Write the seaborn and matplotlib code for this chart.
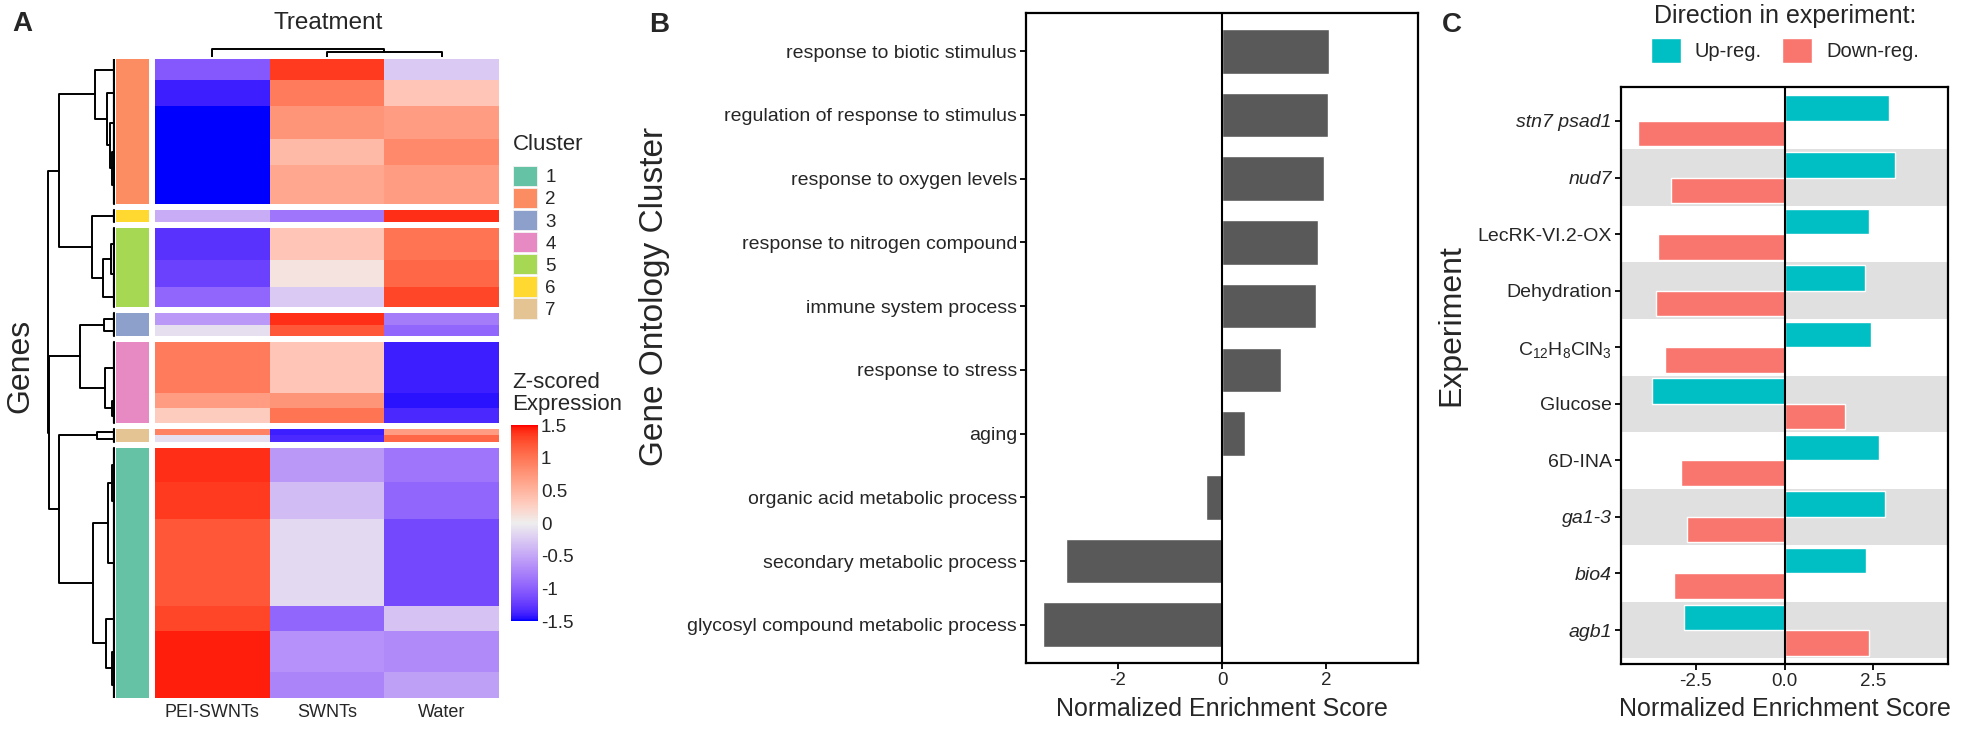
import matplotlib
matplotlib.use('Agg')
import numpy as np
import pandas as pd
import matplotlib.pyplot as plt
import seaborn as sns
from matplotlib.colors import ListedColormap
from matplotlib.patches import Patch

# ---------------- data ----------------
# panel A: heatmap bands (blocks of genes with similar z-scores), top to bottom
band_cluster = [2, 2, 2, 2, 2, 6, 5, 5, 5, 3, 3, 4, 4, 4, 7, 7, 1, 1, 1, 1, 1, 1]
band_rows = [21, 26, 33, 26, 39, 12, 32, 27, 20, 12, 11, 51, 15, 15, 6, 7, 34, 37, 87, 25, 41, 26]
pei_z = [-1.05, -1.4, -1.5, -1.5, -1.5, -0.45, -1.3, -1.2, -0.95, -0.6, -0.1,
         0.95, 0.7, 0.3, 0.9, -0.1, 1.4, 1.35, 1.2, 1.3, 1.45, 1.45]
swnt_z = [1.35, 0.95, 0.75, 0.45, 0.6, -0.85, 0.35, 0.1, -0.25, 1.4, 1.2,
          0.35, 0.75, 1.0, -1.4, -1.35, -0.6, -0.35, -0.15, -0.95, -0.65, -0.75]
water_z = [-0.25, 0.35, 0.7, 0.85, 0.7, 1.4, 1.0, 1.1, 1.3, -0.8, -0.95,
           -1.4, -1.45, -1.35, 0.7, 1.1, -0.85, -0.95, -1.15, -0.3, -0.7, -0.55]
treatments = ['PEI-SWNTs', 'SWNTs', 'Water']
cluster_colors = ['#66C2A5', '#FC8D62', '#8DA0CB', '#E78AC3', '#A6D854', '#FFD92F', '#E5C494']

# dendrograms: (left, right, merge height), leaves are band / column indices
c2 = (0, (1, (2, (3, 4, 3), 5), 8), 20)
c5 = ((6, 7, 4), 8, 12)
c3 = (9, 10, 11)
c4 = (11, (12, 13, 3), 10)
c7 = (14, 15, 18)
c1 = (((16, 17, 3), 18, 7), (19, (20, 21, 3), 9), 22)
row_tree = ((c2, (5, c5, 23), 56), ((c3, c4, 35), (c7, c1, 56), 66.5), 67)
col_tree = (0, (1, 2, 5), 8)

# panel B
go_terms = ['response to biotic stimulus', 'regulation of response to stimulus',
            'response to oxygen levels', 'response to nitrogen compound',
            'immune system process', 'response to stress', 'aging',
            'organic acid metabolic process', 'secondary metabolic process',
            'glycosyl compound metabolic process']
go_nes = [2.06, 2.03, 1.96, 1.84, 1.81, 1.13, 0.45, -0.3, -3.0, -3.44]

# panel C
experiments = ['stn7 psad1', 'nud7', 'LecRK-VI.2-OX', 'Dehydration',
               r'$\mathregular{C_{12}H_8ClN_3}$', 'Glucose', '6D-INA', 'ga1-3', 'bio4', 'agb1']
italic_names = ['stn7 psad1', 'nud7', 'ga1-3', 'bio4', 'agb1']
up_nes = [2.95, 3.12, 2.39, 2.26, 2.42, -3.74, 2.67, 2.84, 2.28, -2.84]
down_nes = [-4.13, -3.2, -3.57, -3.62, -3.37, 1.71, -2.92, -2.75, -3.12, 2.39]

# ---------------- style ----------------
sns.set_style('white')
plt.rcParams['font.family'] = ['Liberation Sans', 'DejaVu Sans']
plt.rcParams['axes.unicode_minus'] = False
plt.rcParams['mathtext.default'] = 'regular'

W, H = 1961, 737
fig = plt.figure(figsize=(W / 100, H / 100), dpi=100)


def box(x0, y0, x1, y1):
    return [x0 / W, 1 - y1 / H, (x1 - x0) / W, (y1 - y0) / H]


def ftext(x, y, s, **kw):
    return fig.text(x / W, 1 - y / H, s, **kw)


# colour ramp blue - #EEEEEE - red interpolated in LAB (like colorRamp2)
M = np.array([[0.4124, 0.3576, 0.1805], [0.2126, 0.7152, 0.0722], [0.0193, 0.1192, 0.9505]])
WHITE = np.array([0.95047, 1.0, 1.08883])


def to_lab(rgb):
    c = np.array(rgb, float)
    lin = np.where(c <= 0.04045, c / 12.92, ((c + 0.055) / 1.055) ** 2.4)
    t = (M @ lin) / WHITE
    f = np.where(t > 0.008856, np.cbrt(t), 7.787 * t + 16 / 116)
    return np.array([116 * f[1] - 16, 500 * (f[0] - f[1]), 200 * (f[1] - f[2])])


def from_lab(lab):
    fy = (lab[0] + 16) / 116
    f = np.array([fy + lab[1] / 500, fy, fy - lab[2] / 200])
    t = np.where(f ** 3 > 0.008856, f ** 3, (f - 16 / 116) / 7.787)
    lin = np.clip(np.linalg.inv(M) @ (t * WHITE), 0, 1)
    c = np.where(lin <= 0.0031308, 12.92 * lin, 1.055 * lin ** (1 / 2.4) - 0.055)
    return np.clip(c, 0, 1)


lab_lo, lab_mid, lab_hi = to_lab([0, 0, 1]), to_lab([0.933, 0.933, 0.933]), to_lab([1, 0, 0])
ramp = []
for v in np.linspace(-1, 1, 256):
    if v < 0:
        ramp.append(from_lab(lab_mid + (lab_lo - lab_mid) * (-v)))
    else:
        ramp.append(from_lab(lab_mid + (lab_hi - lab_mid) * v))
zcmap = ListedColormap(ramp)

# ---------------- panel A ----------------
GAP = 6
mat, clus, span = [], [], {}
r = 0
for i in range(len(band_rows)):
    if i > 0 and band_cluster[i] != band_cluster[i - 1]:
        mat += [[np.nan] * 3] * GAP
        clus += [np.nan] * GAP
        r += GAP
    span[i] = (r, r + band_rows[i])
    mat += [[pei_z[i], swnt_z[i], water_z[i]]] * band_rows[i]
    clus += [band_cluster[i]] * band_rows[i]
    r += band_rows[i]
mat = pd.DataFrame(mat, columns=treatments)
nrow = len(mat)

ax_hm = fig.add_axes(box(155, 59, 499, 698))
ax_cb = fig.add_axes(box(511, 425, 538, 621))
sns.heatmap(mat, ax=ax_hm, cmap=zcmap, vmin=-1.5, vmax=1.5, yticklabels=False,
            cbar_ax=ax_cb, cbar_kws={'ticks': [1.5, 1, 0.5, 0, -0.5, -1, -1.5]})
ax_hm.tick_params(axis='x', length=0, labelsize=13, pad=4, rotation=0)
cb = ax_hm.collections[0].colorbar
cb.outline.set_visible(False)
cb.ax.set_yticklabels(['1.5', '1', '0.5', '0', '-0.5', '-1', '-1.5'])
cb.ax.tick_params(direction='in', left=True, right=True, color='white', length=6,
                  width=1.2, labelsize=13.5, pad=2)

ax_cl = fig.add_axes(box(116, 59, 149, 698))
sns.heatmap(pd.DataFrame({'c': clus}), ax=ax_cl, cmap=ListedColormap(cluster_colors),
            vmin=0.5, vmax=7.5, cbar=False, xticklabels=False, yticklabels=False)

LEAF_H = 1.5
ax_rd = fig.add_axes(box(44, 59, 115, 698))


def dendro(ax, node, leaf_pos, side):
    if not isinstance(node, tuple):
        if side == 'left':
            a, b = span[node]
            ax.plot([LEAF_H, LEAF_H], [a, b], color='black', lw=1.6)
            return (a + b) / 2, LEAF_H
        return leaf_pos[node], 0
    left, right, h = node
    pl, hl = dendro(ax, left, leaf_pos, side)
    pr, hr = dendro(ax, right, leaf_pos, side)
    if side == 'left':
        ax.plot([hl, h, h, hr], [pl, pl, pr, pr], color='black', lw=1.4)
    else:
        ax.plot([pl, pl, pr, pr], [hl, h, h, hr], color='black', lw=1.4)
    return (pl + pr) / 2, h


dendro(ax_rd, row_tree, None, 'left')
ax_rd.set_xlim(71, 0)
ax_rd.set_ylim(nrow, 0)
ax_rd.axis('off')

ax_cd = fig.add_axes(box(155, 48, 499, 57))
dendro(ax_cd, col_tree, [0.5, 1.5, 2.5], 'top')
ax_cd.set_xlim(0, 3)
ax_cd.set_ylim(0, 9)
ax_cd.axis('off')

ftext(328, 23, 'Treatment', ha='center', va='center', fontsize=17.5)
ftext(20, 366, 'Genes', ha='center', va='center', rotation=90, fontsize=23)
ftext(513, 145, 'Cluster', ha='left', va='center', fontsize=16)
fig.legend(handles=[Patch(facecolor=c, edgecolor='#f4f4f4', lw=0.6) for c in cluster_colors],
           labels=[str(i + 1) for i in range(7)], loc='upper left',
           bbox_to_anchor=(513 / W, 1 - 166 / H), frameon=False, fontsize=13.5,
           handlelength=1.28, handleheight=1.28, handletextpad=0.45,
           labelspacing=0.09, borderpad=0, borderaxespad=0)
ftext(512, 372, 'Z-scored\nExpression', ha='left', va='top', fontsize=16, linespacing=1.08)

# ---------------- panel B ----------------
axB = fig.add_axes(box(1026, 13, 1418, 663))
sns.barplot(x=go_nes, y=go_terms, color='#595959', saturation=1, width=0.7,
            orient='h', ax=axB, errorbar=None)
axB.axvline(0, color='black', lw=1.5, zorder=3)
axB.set_xlim(-3.77, 3.77)
axB.set_ylim(9.6, -0.6)
axB.set_xticks([-2, 0, 2])
axB.set_xticklabels(['-2', '0', '2'])

# ---------------- panel C ----------------
dfC = pd.DataFrame({'experiment': experiments * 2,
                    'nes': up_nes + down_nes,
                    'direction': ['Up-reg.'] * len(up_nes) + ['Down-reg.'] * len(down_nes)})
pal = {'Up-reg.': '#00BFC4', 'Down-reg.': '#F8766D'}
axC = fig.add_axes(box(1621, 87, 1948, 664))
for i in range(1, len(experiments), 2):
    axC.axhspan(i - 0.5, i + 0.5, color='#E0E0E0', zorder=0, lw=0)
sns.barplot(data=dfC, x='nes', y='experiment', hue='direction', order=experiments,
            hue_order=['Up-reg.', 'Down-reg.'], palette=pal, saturation=1, width=0.9,
            orient='h', ax=axC, errorbar=None, legend=False)
axC.axvline(0, color='black', lw=1.5, zorder=3)
axC.set_xlim(-4.6, 4.6)
axC.set_ylim(9.6, -0.6)
axC.set_xticks([-2.5, 0, 2.5])
axC.set_xticklabels(['-2.5', '0.0', '2.5'])
for lab in axC.get_yticklabels():
    if lab.get_text() in italic_names:
        lab.set_style('italic')

fig.legend(handles=[Patch(facecolor=pal[k]) for k in pal], labels=list(pal),
           title='Direction in experiment:', title_fontsize=18, ncol=2,
           loc='upper center', bbox_to_anchor=(1785 / W, 1 - 4 / H), frameon=False,
           fontsize=14.5, handlelength=1.5, handleheight=1.5, handletextpad=0.7,
           columnspacing=1.0, borderpad=0, borderaxespad=0)

for ax in (axB, axC):
    ax.set_xlabel('')
    ax.set_ylabel('')
    for s in ax.spines.values():
        s.set_visible(True)
        s.set_color('black')
        s.set_linewidth(1.6)
    ax.tick_params(axis='both', length=4, width=1.3, color='black', labelsize=13.5,
                   left=True, bottom=True, pad=2.5)
axB.tick_params(axis='y', labelsize=14)
axC.tick_params(axis='y', labelsize=14)

ftext(655, 296, 'Gene Ontology Cluster', ha='center', va='center', rotation=90, fontsize=24)
ftext(1222, 709, 'Normalized Enrichment Score', ha='center', va='center', fontsize=18)
ftext(1451, 325, 'Experiment', ha='center', va='center', rotation=90, fontsize=23)
ftext(1785, 709, 'Normalized Enrichment Score', ha='center', va='center', fontsize=18)

# panel letters
ftext(12, 24, 'A', ha='left', va='center', fontsize=20, weight='bold')
ftext(649, 25, 'B', ha='left', va='center', fontsize=20, weight='bold')
ftext(1442, 25, 'C', ha='left', va='center', fontsize=20, weight='bold')

fig.savefig('out.png', dpi=100)
